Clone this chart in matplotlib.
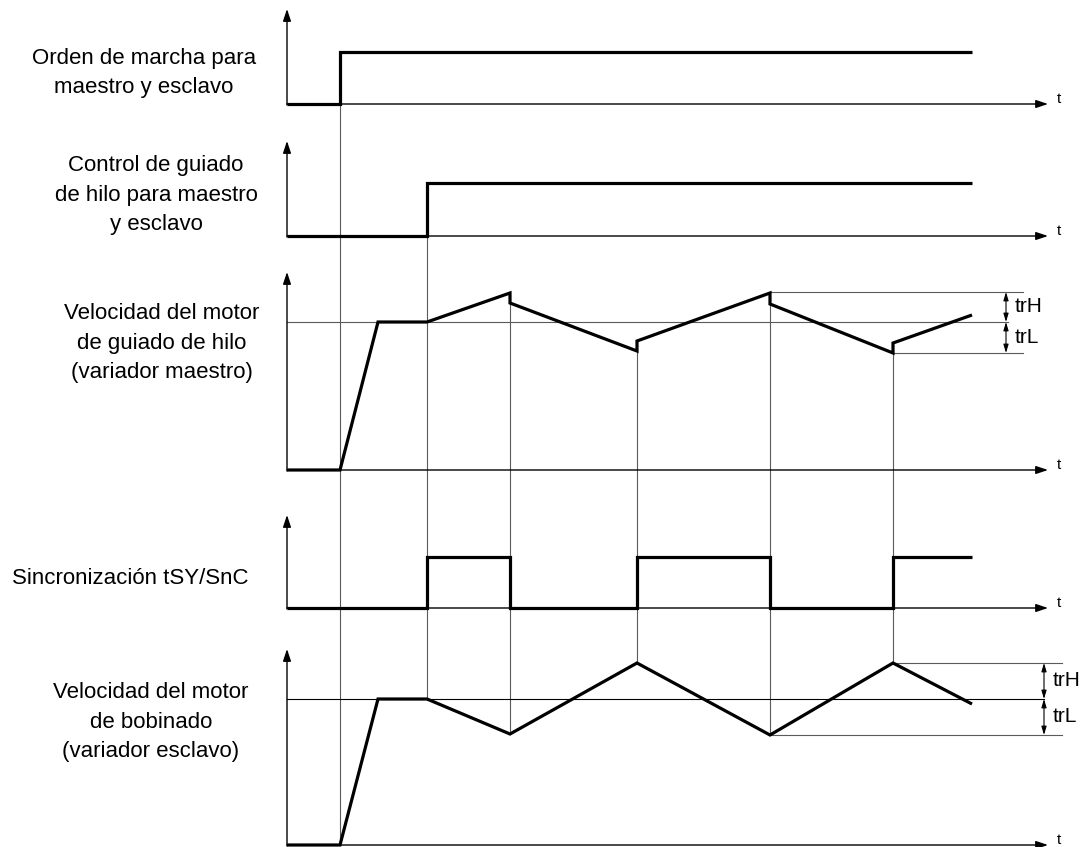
import matplotlib.pyplot as plt

plt.rcParams['font.family'] = ['Liberation Sans', 'DejaVu Sans']

# Instantes de conmutacion (eje de tiempos comun)
t_ini = 287
t_fin = 972
t_marcha = 340
t_rampa = 378
t_guiado = 427
t_conm = [510, 637, 770, 893]

# Lineas de base de cada cronograma
bases = [104, 236, 470, 608, 845]
tops = [9, 141, 272, 515, 649]
t_axis_end = 1048

# 1) Orden de marcha
marcha_t = [t_ini, t_marcha, t_marcha, t_fin]
marcha_y = [104, 104, 52, 52]

# 2) Control de guiado de hilo
guiado_t = [t_ini, t_guiado, t_guiado, t_fin]
guiado_y = [236, 236, 183, 183]

# 3) Velocidad motor guiado de hilo (maestro)
vm_ref = 322
vm_trH = 292
vm_trL = 353
vm_t = [t_ini, t_marcha, t_rampa, t_guiado, 510, 510, 637, 637, 770, 770, 893, 893, t_fin]
vm_y = [470, 470, 322, 322, 293, 303, 351, 341, 293, 304, 353, 343, 315]

# 4) Sincronizacion tSY/SnC
sync_t = [t_ini, 427, 427, 510, 510, 637, 637, 770, 770, 893, 893, t_fin]
sync_y = [608, 608, 557, 557, 608, 608, 557, 557, 608, 608, 557, 557]

# 5) Velocidad motor de bobinado (esclavo)
ve_ref = 699
ve_trH = 663
ve_trL = 735
ve_t = [t_ini, t_marcha, t_rampa, t_guiado, 510, 637, 770, 893, t_fin]
ve_y = [845, 845, 699, 699, 734, 663, 735, 663, 704]

labels = ["Orden de marcha para\nmaestro y esclavo",
          "Control de guiado\nde hilo para maestro\ny esclavo",
          "Velocidad del motor\nde guiado de hilo\n(variador maestro)",
          "Sincronización tSY/SnC",
          "Velocidad del motor\nde bobinado\n(variador esclavo)"]
label_x = [144, 156, 162, 130, 151]
label_y = [73, 195, 343, 578, 722]

# Lineas verticales de referencia (x, y inicio, y fin)
vl_x = [t_marcha, t_guiado, 510, 637, 770, 893]
vl_y0 = [52, 183, 293, 350, 293, 350]
vl_y1 = [845, 700, 734, 663, 735, 663]

fig = plt.figure(figsize=(10.88, 8.47), dpi=100)
ax = fig.add_axes([0, 0, 1, 1])
ax.set_xlim(0, 1088)
ax.set_ylim(847, 0)
ax.axis('off')

gris = '#5a5a5a'
head = '-|>,head_length=0.6,head_width=0.2'

# ejes de cada cronograma
for b, tp in zip(bases, tops):
    ax.annotate('', xy=(t_ini, tp), xytext=(t_ini, b + 1),
                arrowprops=dict(arrowstyle=head, lw=1, color='black', mutation_scale=12, shrinkA=0, shrinkB=0))
    ax.annotate('', xy=(t_axis_end, b), xytext=(t_ini, b),
                arrowprops=dict(arrowstyle=head, lw=1, color='black', mutation_scale=12, shrinkA=0, shrinkB=0))
    ax.text(t_axis_end + 9, b - 5, 't', fontsize=11, ha='left', va='center')

# lineas verticales
for x, y0, y1 in zip(vl_x, vl_y0, vl_y1):
    ax.plot([x, x], [y0, y1], color=gris, lw=0.8)

# lineas de consigna y umbrales
ax.plot([t_ini, 1008], [vm_ref, vm_ref], color=gris, lw=0.8)
ax.plot([770, 1023], [vm_trH, vm_trH], color=gris, lw=0.8)
ax.plot([893, 1023], [vm_trL, vm_trL], color=gris, lw=0.8)
ax.plot([t_ini, 1044], [ve_ref, ve_ref], color='black', lw=0.8)
ax.plot([893, 1062], [ve_trH, ve_trH], color=gris, lw=0.8)
ax.plot([770, 1062], [ve_trL, ve_trL], color=gris, lw=0.8)

dbl = '<|-|>,head_length=0.5,head_width=0.15'
for xa, r, h, l in [(1006, vm_ref, vm_trH, vm_trL), (1044, ve_ref, ve_trH, ve_trL)]:
    ax.annotate('', xy=(xa, h), xytext=(xa, r),
                arrowprops=dict(arrowstyle=dbl, lw=0.8, color='black', mutation_scale=10, shrinkA=0, shrinkB=0))
    ax.annotate('', xy=(xa, r), xytext=(xa, l),
                arrowprops=dict(arrowstyle=dbl, lw=0.8, color='black', mutation_scale=10, shrinkA=0, shrinkB=0))
    ax.text(xa + 9, (h + r) / 2, 'trH', fontsize=15, ha='left', va='center')
    ax.text(xa + 9, (r + l) / 2, 'trL', fontsize=15, ha='left', va='center')

# senales
for tt, yy in [(marcha_t, marcha_y), (guiado_t, guiado_y), (vm_t, vm_y), (sync_t, sync_y), (ve_t, ve_y)]:
    ax.plot(tt, yy, color='black', lw=2.3, solid_joinstyle='miter', solid_capstyle='butt')

# etiquetas
for s, x, y in zip(labels, label_x, label_y):
    ax.text(x, y, s, fontsize=16, ha='center', va='center', multialignment='center', linespacing=1.55)

fig.savefig('out.png', dpi=100)
